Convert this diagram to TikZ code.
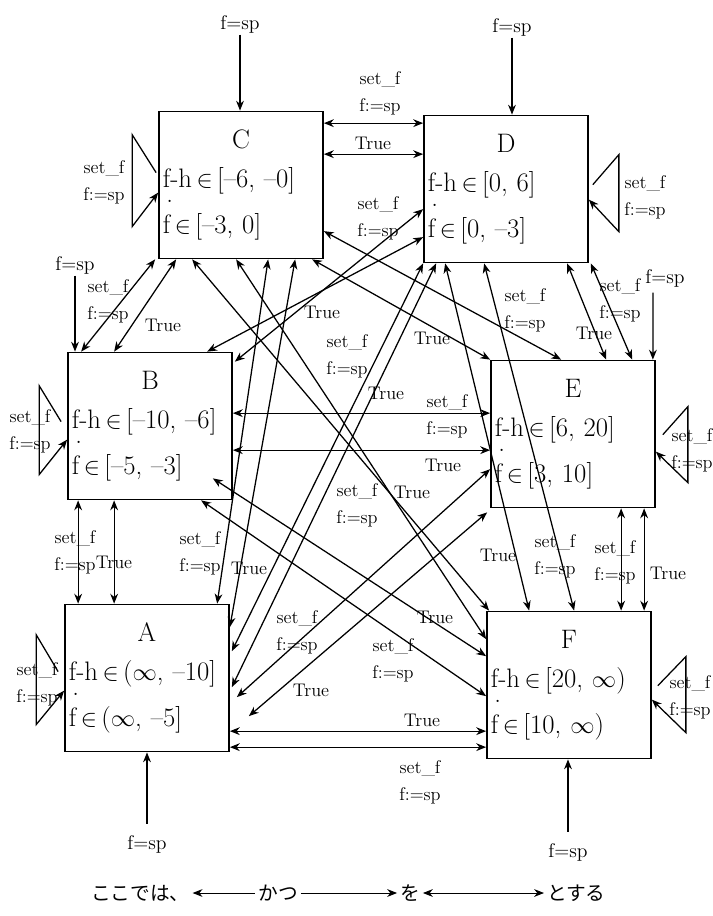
\documentclass[tikz,border=0pt]{standalone}
\usepackage{fontspec}
\usetikzlibrary{arrows.meta,calc}
\newfontfamily\jpfont{Noto Sans CJK JP}
% dot of the time derivative, set high above the f
\newcommand{\fdot}{\leavevmode\rlap{\hspace{0.13em}\smash{\raisebox{1.15em}{.}}}f}
\newcommand{\boxtitle}[1]{\makebox[\hsize]{#1}}

\begin{document}
\begin{tikzpicture}[x=0.025cm,y=-0.025cm,
  >={Stealth[length=7pt,width=5.5pt,inset=2.2pt]},
  statebox/.style={rectangle,draw,line width=1.2pt,
    minimum width=4.1cm,minimum height=3.675cm,text width=3.9cm,
    inner xsep=0.1cm,align=left,font=\fontsize{19}{27.6}\selectfont},
  lbl/.style={align=center,inner sep=1pt,font=\fontsize{13}{19}\selectfont},
  spl/.style={inner sep=1pt,font=\fontsize{14}{16}\selectfont},
  jp/.style={inner sep=2pt,font=\jpfont\fontsize{14}{16}\selectfont},
  link/.style={<->,line width=0.9pt},
  arr/.style={->,line width=0.9pt}]

  \useasboundingbox (0,0) rectangle (712,916);

  % states
  \node[statebox] (C) at (241,185) {\boxtitle{C}\\ f-h\,$\in$\,[--6, --0]\\[5pt] \fdot\,$\in$\,[--3, 0]};
  \node[statebox] (D) at (506,189) {\boxtitle{D}\\ f-h\,$\in$\,[0, 6]\\[5pt] \fdot\,$\in$\,[0, --3]};
  \node[statebox] (B) at (150,426) {\boxtitle{B}\\ f-h\,$\in$\,[--10, --6]\\[5pt] \fdot\,$\in$\,[--5, --3]};
  \node[statebox] (E) at (573,434) {\boxtitle{E}\\ f-h\,$\in$\,[6, 20]\\[5pt] \fdot\,$\in$\,[3, 10]};
  \node[statebox] (A) at (147,678) {\boxtitle{A}\\ f-h\,$\in$\,($\infty$, --10]\\[5pt] \fdot\,$\in$\,($\infty$, --5]};
  \node[statebox] (F) at (569,685) {\boxtitle{F}\\ f-h\,$\in$\,[20, $\infty$)\\[5pt] \fdot\,$\in$\,[10, $\infty$)};

  % entry arrows f=sp
  \node[spl] (spC) at (240,24) {f=sp};
  \node[spl] (spD) at (512,27) {f=sp};
  \node[spl] (spB) at (75,265) {f=sp};
  \node[spl] (spE) at (665,278) {f=sp};
  \node[spl] (spA) at (147,844) {f=sp};
  \node[spl] (spF) at (568,852) {f=sp};
  \draw[arr] (spC) -- (spC |- C.north);
  \draw[arr] (spD) -- (spD |- D.north);
  \draw[arr] (spB) -- (spB |- B.north);
  \draw[arr] ($(spE.south)+(-12,4)$) -- ($(E.north east)+(-3,0)$);
  \draw[arr,shorten <=7pt] (spA) -- (spA |- A.south);
  \draw[arr,shorten <=7pt] (spF) -- (spF |- F.south);

  % self loops
  \draw[arr] ($(C.north west)+(-2,62)$) -- ++(-24,-38) -- ++(0,92) -- ($(C.north west)+(0,82)$);
  \draw[arr] ($(D.north east)+(4,70)$) -- ++(26,-30) -- ++(0,77) -- ($(D.north east)+(0,85)$);
  \draw[arr] ($(B.north west)+(-6,70)$) -- ++(-22,-36) -- ++(0,89) -- ($(B.north west)+(0,88)$);
  \draw[arr] ($(E.north east)+(7,75)$) -- ++(25,-28) -- ++(0,76) -- ($(E.north east)+(0,92)$);
  \draw[arr] ($(A.north west)+(-6,68)$) -- ++(-22,-37) -- ++(0,90) -- ($(A.north west)+(0,87)$);
  \draw[arr] ($(F.north east)+(6,75)$) -- ++(28,-29) -- ++(0,76) -- ($(F.north east)+(0,89)$);
  \node[lbl] (lpC) at (104,182) {set\_f\\f:=sp};
  \node[lbl] (lpD) at (645,197) {set\_f\\f:=sp};
  \node[lbl] (lpB) at (30,431) {set\_f\\f:=sp};
  \node[lbl] (lpE) at (692,450) {set\_f\\f:=sp};
  \node[lbl] (lpA) at (37,684) {set\_f\\f:=sp};
  \node[lbl] (lpF) at (690,697) {set\_f\\f:=sp};

  % neighbours
  \draw[link] ($(C.north east)+(0,12.5)$) -- ($(D.north west)+(0,8.5)$);
  \draw[link] ($(C.north east)+(0,43.5)$) -- ($(D.north west)+(0,39.5)$);
  \draw[link] ($(C.south west)+(-3,0)$) -- ($(B.north west)+(14,0)$);
  \draw[link] ($(C.south west)+(18,0)$) -- ($(B.north west)+(47,0)$);
  \draw[link] ($(B.south west)+(11,0)$) -- ($(A.north west)+(14,0)$);
  \draw[link] ($(B.south west)+(47,0)$) -- ($(A.north west)+(50,0)$);
  \draw[link] ($(E.south west)+(131,0)$) -- ($(F.north west)+(135,0)$);
  \draw[link] ($(E.south west)+(154,0)$) -- ($(F.north west)+(158,0)$);
  \draw[link] ($(D.south west)+(144,0)$) -- ($(E.north west)+(116,0)$);
  \draw[link] ($(D.south east)+(2,0)$) -- ($(E.north west)+(142,0)$);
  \draw[link] ($(A.north east)+(0,127.5)$) -- ($(F.north west)+(0,120.5)$);
  \draw[link] ($(A.north east)+(0,143.5)$) -- ($(F.north west)+(0,136.5)$);
  \draw[link] ($(B.north east)+(0,61.5)$) -- ($(E.north west)+(0,53.5)$);
  \draw[link] ($(B.north east)+(0,98.5)$) -- ($(E.north west)+(0,90.5)$);

  % crossing links
  \draw[link] ($(C.north east)+(0,120.5)$) -- ($(E.north west)+(71,0)$);
  \draw[link] ($(C.south west)+(154,0)$) -- (E.north west);
  \draw[link] ($(C.south west)+(110,0)$) -- ($(A.north west)+(153,0)$);
  \draw[link] ($(C.south west)+(137,0)$) -- ($(A.north east)+(0,23.5)$);
  \draw[link] ($(D.north west)+(0,94.5)$) -- ($(B.north east)+(2,10)$);
  \draw[link] ($(D.north west)+(0,122.5)$) -- ($(B.north west)+(140,0)$);
  \draw[link] (D.south west) -- ($(A.north east)+(2,47.5)$);
  \draw[link] ($(D.south west)+(13,0)$) -- ($(A.north east)+(2,83.5)$);
  \draw[link] ($(D.south west)+(22,0)$) -- ($(F.north west)+(43,0)$);
  \draw[link] ($(D.south west)+(61,0)$) -- ($(F.north west)+(88,0)$);
  \draw[link] ($(C.south west)+(34,0)$) -- ($(F.north west)+(3,0)$);
  \draw[link] ($(C.south west)+(78,0)$) -- ($(F.north west)+(0,28.5)$);
  \draw[link] ($(B.south east)+(-20,-22)$) -- ($(F.north west)+(0,45.5)$);
  \draw[link] ($(B.south west)+(134,0)$) -- ($(F.north west)+(0,85.5)$);
  \draw[link] ($(E.north west)+(0,109.5)$) -- ($(A.north east)+(7,93.5)$);
  \draw[link] ($(E.south west)+(-3,4)$) -- ($(A.north east)+(19,112.5)$);

  % link labels
  \node[lbl] (lCDs) at (380,93) {set\_f\\f:=sp};
  \node[lbl] (lCDt) at (373,143) {True};
  \node[lbl] (lBCs) at (108,301) {set\_f\\f:=sp};
  \node[lbl] (lBCt) at (163,325) {True};
  \node[lbl] (lABs) at (75,552) {set\_f\\f:=sp};
  \node[lbl] (lABt) at (114,562) {True};
  \node[lbl] (lEFs) at (615,562) {set\_f\\f:=sp};
  \node[lbl] (lEFt) at (668,573) {True};
  \node[lbl] (lDEs) at (620,300) {set\_f\\f:=sp};
  \node[lbl] (lDEt) at (594,333) {True};
  \node[lbl] (lAFt) at (422,720) {True};
  \node[lbl] (lAFs) at (420,782) {set\_f\\f:=sp};
  \node[lbl] (lBEs) at (447,416) {set\_f\\f:=sp};
  \node[lbl] (lBEt) at (443,465) {True};
  \node[lbl] (lCEs) at (525,310) {set\_f\\f:=sp};
  \node[lbl] (lCEt) at (432,338) {True};
  \node[lbl] (lCAs) at (200,553) {set\_f\\f:=sp};
  \node[lbl] (lCAt) at (249,568) {True};
  \node[lbl] (lDBs) at (378,218) {set\_f\\f:=sp};
  \node[lbl] (lDBt) at (322,312) {True};
  \node[lbl] (lDAs) at (347,356) {set\_f\\f:=sp};
  \node[lbl] (lDAt) at (386,393) {True};
  \node[lbl] (lDFt) at (498,555) {True};
  \node[lbl] (lDFs) at (555,556) {set\_f\\f:=sp};
  \node[lbl] (lCFs) at (357,505) {set\_f\\f:=sp};
  \node[lbl] (lCFt) at (412,492) {True};
  \node[lbl] (lBFt) at (435,617) {True};
  \node[lbl] (lBFs) at (393,660) {set\_f\\f:=sp};
  \node[lbl] (lEAs) at (297,632) {set\_f\\f:=sp};
  \node[lbl] (lEAt) at (311,690) {True};

  % legend
  \node[jp,anchor=west] (lg1) at (88,893) {ここでは、};
  \node[jp] (lg2) at (278,893) {かつ};
  \node[jp] (lg3) at (410,893) {を};
  \node[jp,anchor=west] (lg4) at (544,893) {とする};
  \draw[<-,line width=0.7pt] (lg1) -- (lg2);
  \draw[->,line width=0.7pt] (lg2) -- (lg3);
  \draw[<->,line width=0.7pt] (lg3) -- (lg4);
\end{tikzpicture}
\end{document}
